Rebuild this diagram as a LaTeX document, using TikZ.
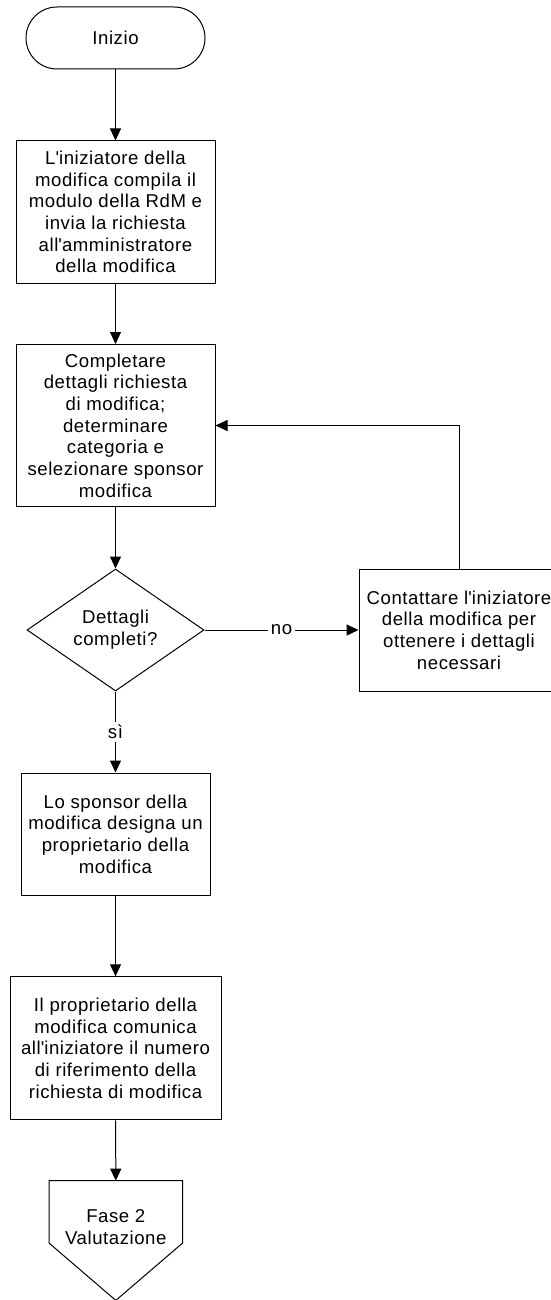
\documentclass[tikz,border=0pt]{standalone}
\usepackage{fontspec}
\setmainfont{Liberation Sans}[LetterSpace=3]
\usetikzlibrary{arrows.meta,shapes.geometric,calc}
% straight apostrophe, as printed in the step texts
\newcommand{\apos}{\textquotesingle}

\begin{document}
\begin{tikzpicture}[x=1pt,y=-1pt,
  every node/.style={font=\fontsize{18.6}{21.7}\selectfont, align=center, inner sep=0pt},
  flowline/.style={line width=1pt},
  flowbox/.style={draw, flowline, rectangle},
  terminal/.style={draw, flowline, rectangle, rounded corners=31pt,
    minimum width=179pt, minimum height=62pt},
  decision/.style={draw, flowline, diamond, aspect=1.45,
    minimum width=177pt, minimum height=122pt},
  link/.style={draw, flowline, -{Triangle[length=12pt,width=11pt]}},
  edgelabel/.style={fill=white, inner sep=3pt}]
\useasboundingbox (0,0) rectangle (551,1300);

% process steps
\node[terminal] (start) at (115.5,38) {Inizio};
\node[flowbox, minimum width=199pt, minimum height=142pt] (b1) at (115.5,212)
  {L\apos iniziatore della\\modifica compila il\\modulo della RdM e\\invia la richiesta\\all\apos amministratore\\della modifica};
\node[flowbox, minimum width=199pt, minimum height=162pt] (b2) at (115.5,425.5)
  {Completare\\dettagli richiesta\\di modifica;\\determinare\\categoria e\\selezionare sponsor\\modifica};
\node[decision] (dec) at (115.5,630) {Dettagli\\completi?};
\node[flowbox, minimum width=200pt, minimum height=122pt] (contact) at (459,630)
  {Contattare l\apos iniziatore\\della modifica per\\ottenere i dettagli\\necessari};
\node[flowbox, minimum width=189pt, minimum height=122pt] (b3) at (115.5,834)
  {Lo sponsor della\\modifica designa un\\proprietario della\\modifica};
\node[flowbox, minimum width=211pt, minimum height=143pt] (b4) at (115.5,1048.3)
  {Il proprietario della\\modifica comunica\\all\apos iniziatore il numero\\di riferimento della\\richiesta di modifica};

% off-page connector to the next phase
\node[minimum width=133pt, minimum height=62pt, anchor=north] (next) at (115.8,1180.7) {};
\draw[flowline] (next.north west) -- (next.north east) -- (next.south east)
  -- ($(next.south)+(0,57.3)$) -- (next.south west) -- cycle;
\node (nexttext) at ($(next.center)+(0,15)$) {Fase 2\\Valutazione};

% connectors
\draw[link] (start) -- (b1);
\draw[link] (b1) -- (b2);
\draw[link] (b2) -- (dec);
\draw[link] (dec.east) -- node[edgelabel] {no} (contact.west);
\draw[link] (contact.north) |- (b2.east);
\draw[link] (dec.south) -- node[edgelabel] {sì} (b3.north);
\draw[link] (b3) -- (b4);
\draw[link] (b4) -- (next.north);
\end{tikzpicture}
\end{document}
